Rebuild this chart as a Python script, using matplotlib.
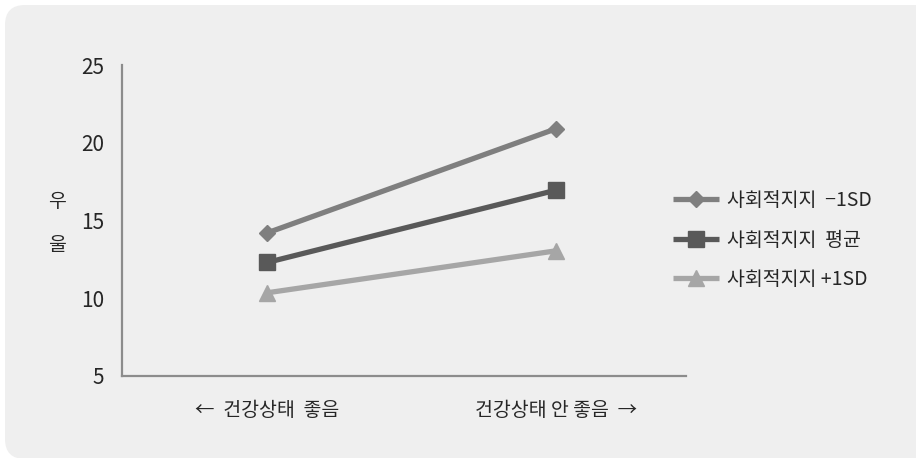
import matplotlib.pyplot as plt
from matplotlib.patches import FancyBboxPatch

plt.rcParams['font.family'] = ['Noto Sans CJK KR', 'DejaVu Sans']
plt.rcParams['font.size'] = 14

categories = ["←  건강상태  좋음", "건강상태 안 좋음  →"]
series_names = ["사회적지지  −1SD", "사회적지지  평균", "사회적지지 +1SD"]
low_sd = [14.2, 20.9]
mean_sd = [12.3, 16.95]
high_sd = [10.35, 13.05]
yticks = [5, 10, 15, 20, 25]

colors = ["#7f7f7f", "#595959", "#a6a6a6"]
markers = ["D", "s", "^"]
msizes = [8, 11, 11]

W, H = 916, 458
fig = plt.figure(figsize=(W / 100, H / 100), dpi=100)
fig.patch.set_facecolor("white")

# rounded light-gray panel, drawn in inches so the corner stays round
panel = FancyBboxPatch((0.05, -0.01), 9.6, 4.54,
                       boxstyle="round,pad=0,rounding_size=0.2",
                       transform=fig.dpi_scale_trans, facecolor="#efefef",
                       edgecolor="none", zorder=-10)
fig.patches.append(panel)

ax = fig.add_axes([122 / W, 1 - 376 / H, (686 - 122) / W, (376 - 65) / H])
ax.set_facecolor("none")

x = [0, 1]
for vals, name, c, m, ms in zip([low_sd, mean_sd, high_sd], series_names, colors, markers, msizes):
    ax.plot(x, vals, color=c, lw=3.8, marker=m, markersize=ms, label=name,
            markeredgecolor=c, solid_capstyle="butt")

ax.set_xlim(-0.502, 1.45)
ax.set_ylim(5, 25)
ax.set_yticks(yticks)
ax.set_xticks(x)
ax.set_xticklabels(categories, color="#262626")
ax.tick_params(axis="both", length=0, labelsize=14, colors="#262626")
ax.tick_params(axis="y", labelsize=15, pad=13)
ax.tick_params(axis="x", pad=17)

for s in ["top", "right"]:
    ax.spines[s].set_visible(False)
for s in ["left", "bottom"]:
    ax.spines[s].set_color("#8c8c8c")
    ax.spines[s].set_linewidth(1.6)

fig.text(57 / W, 1 - 201 / H, "우", ha="center", va="center", fontsize=14, color="#262626")
fig.text(57 / W, 1 - 245 / H, "울", ha="center", va="center", fontsize=14, color="#262626")

leg = ax.legend(loc="center left", bbox_to_anchor=(655 / W, 1 - 240 / H),
                bbox_transform=fig.transFigure, frameon=False, fontsize=14,
                handlelength=2.4, labelspacing=0.95, handletextpad=0.4)
for t in leg.get_texts():
    t.set_color("#262626")

fig.savefig("out.png", dpi=100, facecolor=fig.get_facecolor())
